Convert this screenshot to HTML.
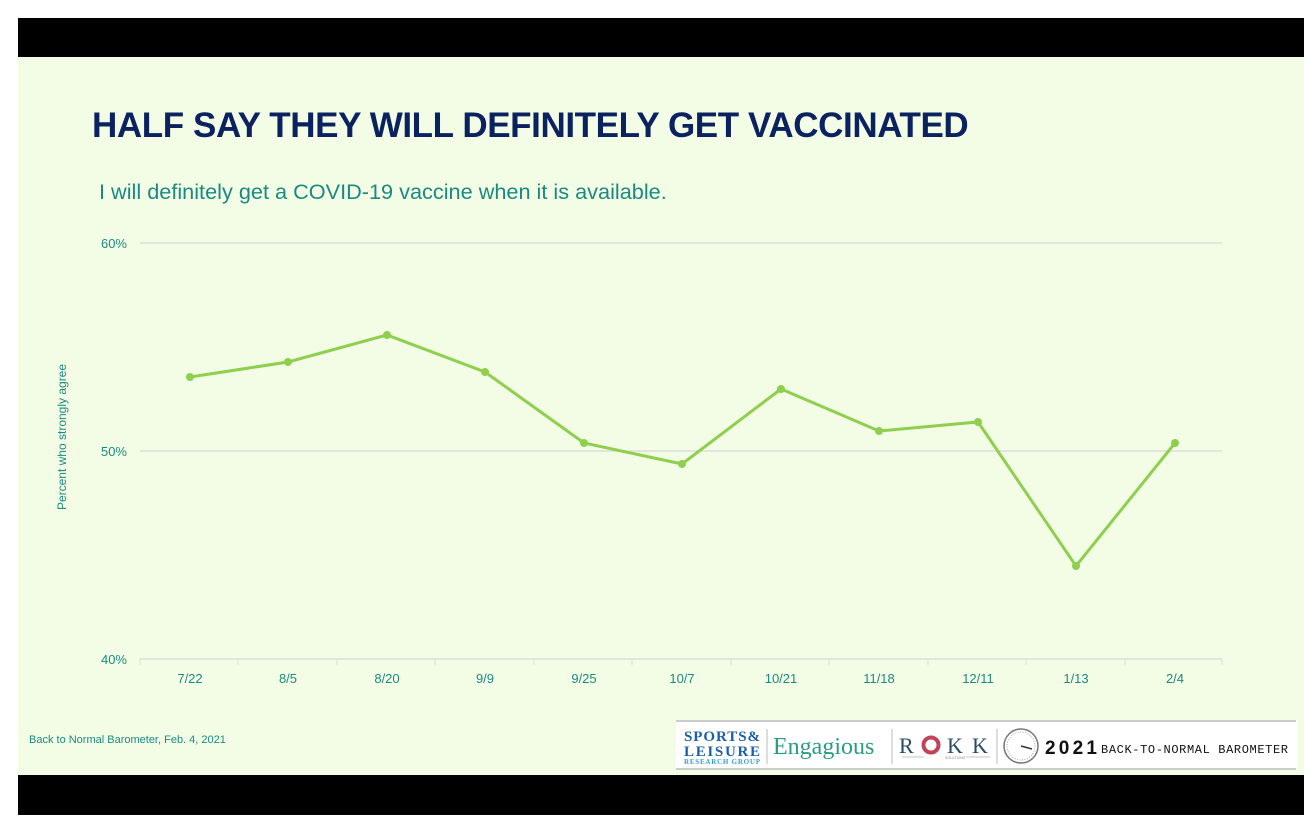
<!DOCTYPE html>
<html><head><style>
body{margin:0;width:1304px;height:834px;background:#fff;position:relative;overflow:hidden;font-family:"Liberation Sans",sans-serif}
.blk{position:absolute;left:18px;right:0;background:#000}
.bg{position:absolute;left:18px;right:0;top:57px;height:718px;background:#f3fde6}
</style></head><body>
<div class="blk" style="top:18px;height:39px"></div>
<div class="bg"></div>
<div class="blk" style="top:775px;height:40px"></div>
<div style="position:absolute;left:92px;top:106px;font-size:35px;font-weight:bold;color:#0b2260;letter-spacing:-0.4px">HALF SAY THEY WILL DEFINITELY GET VACCINATED</div>
<div style="position:absolute;left:99px;top:179px;font-size:21.7px;color:#1a8a80">I will definitely get a COVID-19 vaccine when it is available.</div>
<svg width="1304" height="834" style="position:absolute;left:0;top:0" font-family="Liberation Sans, sans-serif">
<g stroke="#dcdcdc" stroke-width="1.5"><line x1="140" y1="243" x2="1222" y2="243"/><line x1="140" y1="451" x2="1222" y2="451"/><line x1="140" y1="659" x2="1222" y2="659"/></g>
<g stroke="#dcdcdc"><line x1="140" y1="659" x2="140" y2="665"/><line x1="238" y1="659" x2="238" y2="665"/><line x1="337" y1="659" x2="337" y2="665"/><line x1="435" y1="659" x2="435" y2="665"/><line x1="534" y1="659" x2="534" y2="665"/><line x1="632" y1="659" x2="632" y2="665"/><line x1="731" y1="659" x2="731" y2="665"/><line x1="829" y1="659" x2="829" y2="665"/><line x1="928" y1="659" x2="928" y2="665"/><line x1="1026" y1="659" x2="1026" y2="665"/><line x1="1125" y1="659" x2="1125" y2="665"/><line x1="1222" y1="659" x2="1222" y2="665"/></g>
<g fill="#1a8a80" font-size="13" text-anchor="end"><text x="127" y="248">60%</text><text x="127" y="456">50%</text><text x="127" y="664">40%</text></g>
<text transform="translate(66,437) rotate(-90)" fill="#1a8a80" font-size="12" text-anchor="middle">Percent who strongly agree</text>
<g fill="#1a8a80" font-size="13" text-anchor="middle"><text x="190" y="683">7/22</text><text x="288" y="683">8/5</text><text x="387" y="683">8/20</text><text x="485" y="683">9/9</text><text x="584" y="683">9/25</text><text x="682" y="683">10/7</text><text x="781" y="683">10/21</text><text x="879" y="683">11/18</text><text x="978" y="683">12/11</text><text x="1076" y="683">1/13</text><text x="1175" y="683">2/4</text></g>
<polyline fill="none" stroke="#8fcf4e" stroke-width="3" points="190,377 288,362 387,335 485,372 584,443 682,464 781,389 879,431 978,422 1076,566 1175,443"/>
<g fill="#8fcf4e"><circle cx="190" cy="377" r="4"/><circle cx="288" cy="362" r="4"/><circle cx="387" cy="335" r="4"/><circle cx="485" cy="372" r="4"/><circle cx="584" cy="443" r="4"/><circle cx="682" cy="464" r="4"/><circle cx="781" cy="389" r="4"/><circle cx="879" cy="431" r="4"/><circle cx="978" cy="422" r="4"/><circle cx="1076" cy="566" r="4"/><circle cx="1175" cy="443" r="4"/></g>
<text x="29" y="743" fill="#1a8a80" font-size="11">Back to Normal Barometer, Feb. 4, 2021</text>
<rect x="676" y="720" width="622" height="50" fill="#fff"/>
<line x1="676" y1="721" x2="1296" y2="721" stroke="#bbb" stroke-width="1.5"/>
<line x1="676" y1="769" x2="1296" y2="769" stroke="#bbb" stroke-width="1.5"/>
<g font-family="Liberation Serif, serif" font-weight="bold"><text x="684" y="741" fill="#1d5ea8" font-size="15" textLength="76">SPORTS&amp;</text><text x="684" y="756" fill="#1d5ea8" font-size="15" textLength="76">LEISURE</text><text x="684" y="764" fill="#3a9ad9" font-size="7" textLength="76">RESEARCH GROUP</text></g>
<line x1="767" y1="729" x2="767" y2="764" stroke="#bbb"/>
<text x="773" y="754" fill="#2a9d80" font-size="24" font-family="Liberation Serif, serif">Engagious</text>
<line x1="892" y1="729" x2="892" y2="764" stroke="#bbb"/>
<g fill="#2a4a66" font-size="22" font-family="Liberation Serif, serif"><text x="899" y="753">R</text><text x="947" y="753">K</text><text x="972" y="753">K</text></g>
<circle cx="931" cy="745" r="7.5" fill="none" stroke="#c0435a" stroke-width="4"/>
<line x1="902" y1="757" x2="924" y2="757" stroke="#888" stroke-width="0.6"/>
<line x1="966" y1="757" x2="990" y2="757" stroke="#888" stroke-width="0.6"/>
<text x="945" y="759" font-size="3.5" fill="#888">SOLUTIONS</text>
<line x1="997" y1="729" x2="997" y2="764" stroke="#bbb"/>
<circle cx="1021" cy="746" r="17" fill="none" stroke="#777" stroke-width="1.5"/>
<circle cx="1021" cy="746" r="14" fill="none" stroke="#aaa" stroke-width="1" stroke-dasharray="1 1.5"/>
<line x1="1021" y1="746" x2="1032" y2="749" stroke="#333" stroke-width="1.5"/>
<text x="1045" y="754" font-size="19" font-weight="bold" fill="#111" textLength="52">2021</text>
<text x="1101" y="753" font-size="12" fill="#111" font-family="Liberation Mono, monospace" textLength="187" lengthAdjust="spacing">BACK-TO-NORMAL BAROMETER</text>
</svg>
</body></html>
